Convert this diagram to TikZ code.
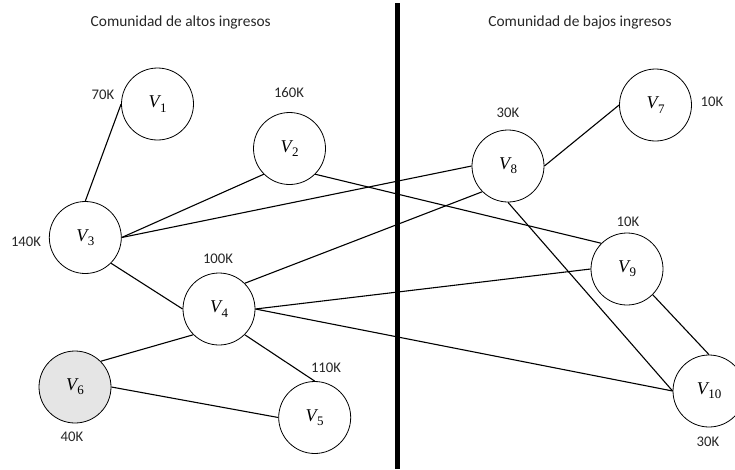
\documentclass[tikz,border=0pt]{standalone}
\usepackage{fontspec}
\setmainfont{Carlito}
\newfontfamily\vfont{Liberation Serif}
\newcommand{\vlab}[1]{{\vfont\fontsize{18}{20}\selectfont\itshape V}\kern0.5pt{\vfont\fontsize{13}{15}\selectfont\raisebox{-4.3pt}{#1}}}
\begin{document}
\begin{tikzpicture}[x=1pt,y=-1pt,
  vnode/.style={circle,draw=black,line width=0.8pt,fill=white,minimum size=72pt,inner sep=0pt},
  gnode/.style={vnode,fill=black!10},
  edge/.style={draw=black,line width=1.1pt},
  wlab/.style={font=\fontsize{14.7}{17}\selectfont,text=black!85,inner sep=0pt},
  head/.style={font=\fontsize{15.4}{18}\selectfont,text=black!85,inner sep=0pt},
  divider/.style={line width=5pt,draw=black}]
\useasboundingbox (0,0) rectangle (735,469);
% headings
\node[head] (h1) at (180.7,22.7) {Comunidad de altos ingresos};
\node[head] (h2) at (580,22.7) {Comunidad de bajos ingresos};
% divider
\coordinate (dtop) at (397,3);
\coordinate (dbot) at (397,469);
\draw[divider] (dtop) -- (dbot);
% nodes
\node[vnode] (v1) at (157.5,104) {\vlab{1}};
\node[vnode] (v2) at (289.5,148.5) {\vlab{2}};
\node[vnode] (v3) at (85.3,237.5) {\vlab{3}};
\node[vnode] (v4) at (219,309) {\vlab{4}};
\node[vnode] (v5) at (314.7,417.5) {\vlab{5}};
\node[gnode] (v6) at (75,387) {\vlab{6}};
\node[vnode] (v7) at (655.5,105) {\vlab{7}};
\node[vnode] (v8) at (508,166) {\vlab{8}};
\node[vnode] (v9) at (627,269) {\vlab{9}};
\node[vnode] (v10) at (709,391) {\vlab{10}};
% edges
\draw[edge] (v1.west) -- (v3.north);
\draw[edge] (v3.east) -- (v2.south west);
\draw[edge] (v3.east) -- (v8.west);
\draw[edge] (v2.south east) -- (v9.north west);
\draw[edge] (v8.east) -- (v7.west);
\draw[edge] (v8.south west) -- (v4.north east);
\draw[edge] (v8.south) -- (v10.west);
\draw[edge] (v4.east) -- (v9.west);
\draw[edge] (v4.east) -- (v10.west);
\draw[edge] (v3.south east) -- (v4.west);
\draw[edge] (v4.south west) -- (v6.north east);
\draw[edge] (v4.south east) -- (v5.north);
\draw[edge] (v6.east) -- (v5.west);
\draw[edge] (v9.south east) -- (v10.north);
% weights
\node[wlab] (w1) at (103,95) {70K};
\node[wlab] (w2) at (289,93) {160K};
\node[wlab] (w3) at (26,242) {140K};
\node[wlab] (w4) at (218,259) {100K};
\node[wlab] (w5) at (326,368) {110K};
\node[wlab] (w6) at (72,437) {40K};
\node[wlab] (w8) at (508,113) {30K};
\node[wlab] (w7) at (712,102) {10K};
\node[wlab] (w9) at (628,222) {10K};
\node[wlab] (w10) at (708,442) {30K};
\end{tikzpicture}
\end{document}
